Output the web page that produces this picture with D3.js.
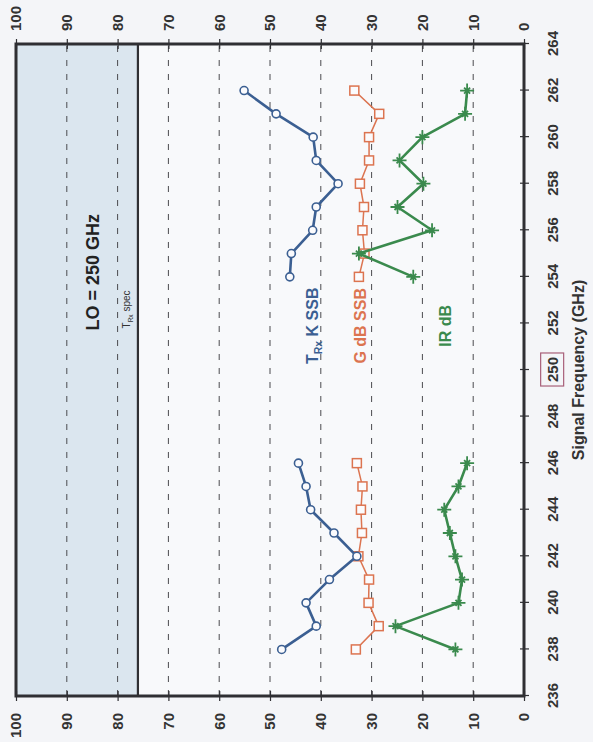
<!DOCTYPE html>
<html>
<head>
<meta charset="utf-8">
<script src="https://cdn.jsdelivr.net/npm/d3@7"></script>
<style>
  html, body { margin: 0; padding: 0; background: #f4f5f8; }
  svg { display: block; }
  text { font-family: "Liberation Sans", Arial, sans-serif; }
</style>
</head>
<body>
<svg id="chart" width="593" height="742"></svg>
<script>
// Receiver measurements, LO = 250 GHz
const frequencies = [238, 239, 240, 241, 242, 243, 244, 245, 246,
                     254, 255, 256, 257, 258, 259, 260, 261, 262];
const trxK   = [47.7, 40.9, 42.9, 38.3, 32.9, 37.4, 42.0, 42.9, 44.4,
                46.1, 45.8, 41.6, 40.9, 36.6, 40.9, 41.5, 48.8, 55.1];
const gainDb = [33.1, 28.6, 30.6, 30.5, 32.6, 31.9, 32.1, 31.8, 32.9,
                32.5, 31.4, 31.8, 31.5, 32.3, 30.5, 30.5, 28.5, 33.4];
const irDb   = [13.5, 25.3, 12.9, 12.2, 13.5, 14.6, 15.7, 12.9, 11.2,
                21.8, 32.5, 18.1, 24.9, 19.8, 24.5, 20.0, 11.6, 11.2];
const trxSpec = 76;
const loFreq = 250;
const freqTicks = d3.range(236, 265, 2);
const valueTicks = d3.range(0, 101, 10);
const gridValues = d3.range(10, 100, 10);

// The chart is laid out landscape (742 x 593) and turned a quarter turn
const W = 742, H = 593;
const svg = d3.select("#chart");
const g = svg.append("g").attr("transform", `translate(0,${W}) rotate(-90)`);

const x = d3.scaleLinear().domain([236, 264]).range([46, 698]);
const y = d3.scaleLinear().domain([0, 100]).range([524, 16]);

const ink = "#2f2f33";
const blue = "#3b5f92", orange = "#dc7450", green = "#3a8a4d";

// plot area
g.append("rect")
  .attr("x", x(236)).attr("y", y(100))
  .attr("width", x(264) - x(236)).attr("height", y(0) - y(100))
  .attr("fill", "#f8f9fb");

// receiver-temperature spec band
g.append("rect")
  .attr("x", x(236)).attr("y", y(100))
  .attr("width", x(264) - x(236)).attr("height", y(trxSpec) - y(100))
  .attr("fill", "#dbe6ef");

// dashed grid
g.selectAll("line.grid").data(gridValues).join("line")
  .attr("class", "grid")
  .attr("x1", x(236)).attr("x2", x(264))
  .attr("y1", d => y(d)).attr("y2", d => y(d))
  .attr("stroke", "#4a4a4f").attr("stroke-width", 1)
  .attr("stroke-dasharray", "6,8");

// spec line
g.append("line")
  .attr("x1", x(236)).attr("x2", x(264))
  .attr("y1", y(trxSpec)).attr("y2", y(trxSpec))
  .attr("stroke", ink).attr("stroke-width", 2.2);

// axes
const styleAxis = sel => {
  sel.select(".domain").remove();
  sel.selectAll(".tick line").attr("stroke", ink).attr("stroke-width", 1.2);
  sel.selectAll(".tick text")
    .attr("fill", "#333")
    .style("font-size", "15px").style("font-weight", "bold");
};

g.append("g").attr("transform", `translate(${x(236)},0)`)
  .call(d3.axisLeft(y).tickValues(valueTicks).tickSize(5).tickPadding(12))
  .call(styleAxis);
g.append("g").attr("transform", `translate(${x(236)},0)`)
  .call(d3.axisRight(y).tickValues(valueTicks).tickSize(5).tickFormat(""))
  .call(styleAxis);

g.append("g").attr("transform", `translate(${x(264)},0)`)
  .call(d3.axisRight(y).tickValues(valueTicks).tickSize(5).tickPadding(8))
  .call(styleAxis);
g.append("g").attr("transform", `translate(${x(264)},0)`)
  .call(d3.axisLeft(y).tickValues(valueTicks).tickSize(5).tickFormat(""))
  .call(styleAxis);

const bottomAxis = g.append("g").attr("transform", `translate(0,${y(0)})`)
  .call(d3.axisBottom(x).tickValues(freqTicks).tickSize(5).tickPadding(18))
  .call(styleAxis);
g.append("g").attr("transform", `translate(0,${y(0)})`)
  .call(d3.axisTop(x).tickValues(freqTicks).tickSize(4).tickFormat(""))
  .call(styleAxis);

// box round the LO frequency label
bottomAxis.selectAll(".tick").filter(d => d === loFreq).each(function () {
  const t = d3.select(this).select("text").node().getBBox();
  d3.select(this).insert("rect", "text")
    .attr("x", t.x - 4).attr("y", t.y - 3)
    .attr("width", t.width + 8).attr("height", t.height + 6)
    .attr("fill", "none").attr("stroke", "#a8607a").attr("stroke-width", 1.2);
});

// frame
g.append("rect")
  .attr("x", x(236)).attr("y", y(100))
  .attr("width", x(264) - x(236)).attr("height", y(0) - y(100))
  .attr("fill", "none").attr("stroke", ink).attr("stroke-width", 3);

// axis title
g.append("text")
  .attr("x", (x(236) + x(264)) / 2).attr("y", 584)
  .attr("text-anchor", "middle")
  .attr("fill", "#333")
  .style("font-size", "16px").style("font-weight", "bold")
  .text("Signal Frequency (GHz)");

// series
const idx = d3.range(frequencies.length);
const segments = [[]];
idx.forEach(i => {
  if (i > 0 && frequencies[i] - frequencies[i - 1] > 1) segments.push([]);
  segments[segments.length - 1].push(i);
});

function drawSeries(values, color, width, marker) {
  const line = d3.line().x(i => x(frequencies[i])).y(i => y(values[i]));
  g.append("g").selectAll("path").data(segments).join("path")
    .attr("d", line)
    .attr("fill", "none").attr("stroke", color)
    .attr("stroke-width", width).attr("stroke-linejoin", "round");
  const m = g.append("g").selectAll("g").data(idx).join("g")
    .attr("transform", i => `translate(${x(frequencies[i])},${y(values[i])})`);
  marker(m, color);
}

drawSeries(gainDb, orange, 1.5, (m, c) => m.append("rect")
  .attr("x", -4.5).attr("y", -4.5).attr("width", 9).attr("height", 9)
  .attr("fill", "#fbfbfd").attr("stroke", c).attr("stroke-width", 1.5));

drawSeries(irDb, green, 2.6, (m, c) => m.append("path")
  .attr("d", "M-7,0H7M0,-7V7M-3,-3L3,3M-3,3L3,-3")
  .attr("fill", "none").attr("stroke", c).attr("stroke-width", 1.8));

drawSeries(trxK, blue, 2.6, (m, c) => m.append("circle")
  .attr("r", 4).attr("fill", "#fbfbfd")
  .attr("stroke", c).attr("stroke-width", 1.6));

// labels
function subLabel(parent, main, sub, rest, attrs, size, color) {
  const t = parent.append("text")
    .attr("x", attrs.x).attr("y", attrs.y)
    .attr("text-anchor", "middle").attr("dy", "0.35em")
    .attr("fill", color)
    .style("font-size", size + "px").style("font-weight", attrs.weight || "bold");
  t.append("tspan").text(main);
  t.append("tspan").attr("dy", size * 0.3).style("font-size", (size * 0.65) + "px").text(sub);
  t.append("tspan").attr("dy", -size * 0.3).text(rest);
  return t;
}

const labelX = x(251.9);
g.append("text")
  .attr("x", x(254.2)).attr("y", 93).attr("dy", "0.35em")
  .attr("text-anchor", "middle").attr("fill", "#222")
  .style("font-size", "18px").style("font-weight", "bold")
  .text("LO = 250 GHz");

subLabel(g, "T", "Rx", " spec", { x: x(252.6), y: 126, weight: "normal" }, 10, "#333");
subLabel(g, "T", "Rx", " K SSB", { x: labelX, y: 312 }, 16, blue);

g.append("text")
  .attr("x", labelX).attr("y", 360).attr("dy", "0.35em")
  .attr("text-anchor", "middle").attr("fill", orange)
  .style("font-size", "16px").style("font-weight", "bold")
  .text("G dB SSB");

g.append("text")
  .attr("x", labelX).attr("y", 445).attr("dy", "0.35em")
  .attr("text-anchor", "middle").attr("fill", green)
  .style("font-size", "16px").style("font-weight", "bold")
  .text("IR dB");
</script>
</body>
</html>
